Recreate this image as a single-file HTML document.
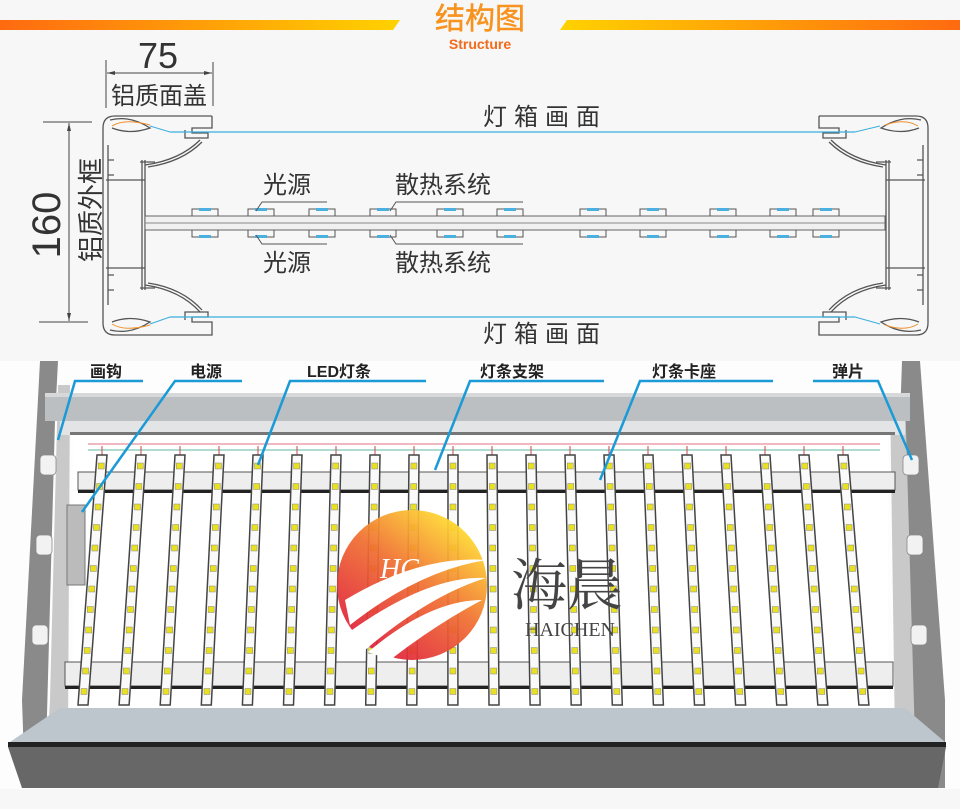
<!DOCTYPE html>
<html><head><meta charset="utf-8"><style>
html,body{margin:0;padding:0;background:#f7f7f7;}
body{width:960px;height:809px;overflow:hidden;position:relative;font-family:"Liberation Sans","Noto Sans CJK SC",sans-serif;}
svg{position:absolute;left:0;top:0;}
</style></head><body>
<svg id="s" width="960" height="809" viewBox="0 0 960 809" xmlns="http://www.w3.org/2000/svg">
<defs>
<linearGradient id="gl" x1="0" x2="1"><stop offset="0" stop-color="#ff6a10"/><stop offset="1" stop-color="#ffd200"/></linearGradient>
<linearGradient id="gr" x1="0" x2="1"><stop offset="0" stop-color="#ffd200"/><stop offset="1" stop-color="#ff6a10"/></linearGradient>
<linearGradient id="lg" x1="0.2" y1="0.9" x2="0.8" y2="0.1"><stop offset="0" stop-color="#e0203a"/><stop offset="0.55" stop-color="#f07030"/><stop offset="1" stop-color="#ffd830"/></linearGradient>
</defs>
<rect width="960" height="809" fill="#f7f7f7"/>
<polygon points="0,20 400,20 393,30 0,30" fill="url(#gl)"/>
<polygon points="567,20 960,20 960,30 560,30" fill="url(#gr)"/>
<text x="480" y="29" text-anchor="middle" font-size="30" fill="#f7931e" stroke="#f7931e" stroke-width="0.5">结构图</text>
<text x="480" y="49" text-anchor="middle" font-size="14" fill="#f26a1b" font-weight="bold">Structure</text>

<text x="158" y="68" text-anchor="middle" font-size="36" fill="#333">75</text>
<line x1="106" y1="60" x2="106" y2="108" stroke="#444"/>
<line x1="213" y1="62" x2="213" y2="106" stroke="#444"/>
<line x1="107" y1="73" x2="212" y2="73" stroke="#444"/>
<polygon points="107,73 115,71 115,75" fill="#444"/><polygon points="212,73 204,71 204,75" fill="#444"/>
<text x="159" y="104" text-anchor="middle" font-size="24" fill="#333">铝质面盖</text>
<line x1="43" y1="122" x2="92" y2="122" stroke="#444"/>
<line x1="39" y1="322" x2="88" y2="322" stroke="#444"/>
<line x1="69" y1="123" x2="69" y2="321" stroke="#444"/>
<polygon points="69,123 67,131 71,131" fill="#444"/><polygon points="69,321 67,313 71,313" fill="#444"/>
<text transform="translate(60,225) rotate(-90)" text-anchor="middle" font-size="40" fill="#333">160</text>
<text transform="translate(100,210) rotate(-90)" text-anchor="middle" font-size="26" fill="#333">铝质外框</text>

<g id="fl" fill="none" stroke="#555" stroke-width="1.3">
<path d="M212,116 L115,116 Q103,116 103,128 L103,323 Q103,335 115,335 L212,335 L212,322 L192,322 L192,317 L208,317 L208,312 L185,312 L185,320"/>
<path d="M212,116 L212,128 L192,128 L192,133 L208,133 L208,138 L185,138 L185,130"/>
<path d="M108,145 L108,305 M106,180 L145,180 L145,268 L106,268 M145,160 L145,290 M142,160 L142,290"/>
<path d="M145,165 Q180,160 200,140 M148,167 Q182,162 202,142 M145,285 Q180,290 200,312 M148,283 Q182,288 202,310"/>
<path d="M140,162 L155,162 M140,288 L155,288 M108,160 L114,160 M108,175 L114,175 M108,275 L114,275 M108,290 L114,290"/>
<path d="M110,120 Q130,115 150,128 Q130,135 112,128 M110,330 Q130,335 150,322 Q130,315 112,322"/>
</g>
<path d="M112,126 Q125,118 150,125 M112,324 Q125,332 150,325" stroke="#f0902a" fill="none"/>
<use href="#fl" transform="translate(1031,0) scale(-1,1)"/>
<path d="M848,126 Q835,118 815,125 M848,324 Q835,332 815,325" stroke="#f0902a" fill="none" transform="translate(70,0)"/>
<line x1="150" y1="126" x2="170" y2="132" stroke="#3aaee0"/>
<line x1="170" y1="132" x2="855" y2="132" stroke="#3aaee0" stroke-width="1.3"/>
<line x1="150" y1="324" x2="170" y2="317" stroke="#3aaee0"/>
<line x1="170" y1="317" x2="855" y2="317" stroke="#3aaee0" stroke-width="1.3"/>
<line x1="855" y1="132" x2="880" y2="126" stroke="#3aaee0"/>
<line x1="855" y1="317" x2="880" y2="324" stroke="#3aaee0"/>
<text x="545" y="125" text-anchor="middle" font-size="24" fill="#333" letter-spacing="7">灯箱画面</text>
<text x="545" y="342" text-anchor="middle" font-size="24" fill="#333" letter-spacing="7">灯箱画面</text>
<rect x="145" y="216" width="740" height="14" fill="#f0f0f0" stroke="#666" stroke-width="1"/>
<line x1="145" y1="223" x2="885" y2="223" stroke="#888"/>
<g id="clips"></g>
<text x="287" y="193" text-anchor="middle" font-size="24" fill="#333">光源</text>
<text x="287" y="271" text-anchor="middle" font-size="24" fill="#333">光源</text>
<text x="443" y="193" text-anchor="middle" font-size="24" fill="#333">散热系统</text>
<text x="443" y="271" text-anchor="middle" font-size="24" fill="#333">散热系统</text>
<path d="M256,211 L262,202 L327,202 M256,235 L262,244 L327,244 M390,211 L396,202 L523,202 M390,235 L396,244 L523,244" stroke="#555" fill="none"/>

<rect x="0" y="361" width="960" height="428" fill="#fdfdfd"/>
<polygon points="40,361 58,361 55,420 45,788 25,788 22,700" fill="#8a8a8a"/>
<polygon points="58,385 70,385 68,740 45,788 50,700" fill="#c9c9c9"/>
<polygon points="902,361 920,361 945,700 945,788 935,788 915,740 900,420" fill="#8a8a8a"/>
<polygon points="890,395 905,395 915,740 895,740" fill="#c9c9c9"/>
<g fill="#f2f2f2" stroke="#888" stroke-width="0.8">
<rect x="40" y="455" width="16" height="20" rx="4"/><rect x="36" y="535" width="16" height="20" rx="4"/><rect x="32" y="625" width="16" height="20" rx="4"/>
<rect x="903" y="455" width="16" height="20" rx="4"/><rect x="907" y="535" width="16" height="20" rx="4"/><rect x="911" y="625" width="16" height="20" rx="4"/>
</g>
<rect x="45" y="393" width="865" height="28" fill="#bcbfc2"/>
<rect x="45" y="393" width="865" height="4" fill="#d6d8da"/>
<rect x="60" y="421" width="845" height="14" fill="#e3e4e5"/>
<rect x="70" y="432" width="825" height="3" fill="#777"/>
<rect x="73" y="436" width="815" height="272" fill="#fff"/>
<polygon points="60,708 905,708 945,742 10,742" fill="#bcc6cc"/>
<rect x="8" y="742" width="938" height="5" fill="#222"/>
<polygon points="8,747 946,747 938,788 22,788" fill="#676767"/>
<line x1="88" y1="444" x2="880" y2="444" stroke="#e07080"/>
<line x1="88" y1="450" x2="880" y2="450" stroke="#5fb8a0"/>
<rect x="78" y="472" width="817" height="18" fill="#eee" stroke="#555"/>
<rect x="78" y="490" width="817" height="3" fill="#222"/>
<rect x="65" y="662" width="828" height="24" fill="#eee" stroke="#555"/>
<rect x="65" y="686" width="828" height="3" fill="#222"/>
<rect x="67" y="505" width="18" height="80" fill="#bbb" stroke="#777"/>
<g id="bars"></g>
<circle cx="412" cy="585" r="75" fill="url(#lg)" opacity="0.93"/>
<path d="M345,600 Q420,555 487,560 Q420,570 350,625 Z M352,630 Q430,575 486,578 Q430,595 365,650 Z M368,652 Q430,600 482,600 Q435,625 390,660 Z" fill="#fff"/>
<text x="380" y="578" font-size="28" fill="#fff" font-style="italic" font-family="Liberation Serif,serif">HC</text>
<text x="567" y="605" text-anchor="middle" font-size="56" fill="#444" font-family="Liberation Serif,'Noto Serif CJK SC',serif">海晨</text>
<text x="570" y="636" text-anchor="middle" font-size="20" fill="#444" font-family="Liberation Serif,serif">HAICHEN</text>
<g font-size="16" font-weight="bold" fill="#222">
<text x="90" y="377">画钩</text><text x="190" y="377">电源</text><text x="307" y="377">LED灯条</text>
<text x="480" y="377">灯条支架</text><text x="652" y="377">灯条卡座</text><text x="832" y="377">弹片</text>
</g>
<g stroke="#1a9ad6" stroke-width="2.5" fill="none">
<path d="M143,381 L75,381 L58,440"/>
<path d="M242,381 L175,381 L82,512"/>
<path d="M426,381 L290,381 L258,465"/>
<path d="M604,381 L470,381 L435,470"/>
<path d="M773,381 L640,381 L600,480"/>
<path d="M813,381 L878,381 L912,460"/>
</g>
</svg>
<script>
var s="";
var cx=[205,261,322,383,450,510,593,653,723,783,826];
cx.forEach(function(x){
s+='<path d="M'+(x-13)+',216 L'+(x-13)+',209 L'+(x+13)+',209 L'+(x+13)+',216 M'+(x-13)+',230 L'+(x-13)+',237 L'+(x+13)+',237 L'+(x+13)+',230" stroke="#555" fill="none"/>';
s+='<rect x="'+(x-6)+'" y="208" width="12" height="3" fill="#4ab0e0"/><rect x="'+(x-6)+'" y="235" width="12" height="3" fill="#4ab0e0"/>';
});
document.getElementById("clips").innerHTML=s;
var b="";
for(var i=0;i<20;i++){
 var xt=102+i*39,xb=83+i*41.1;
 b+='<line x1="'+xt+'" y1="446" x2="'+xt+'" y2="455" stroke="#c44"/>';
 b+='<polygon points="'+(xt-5)+',455 '+(xt+5)+',455 '+(xb+5)+',705 '+(xb-5)+',705" fill="#fafafa" stroke="#444" stroke-width="1.5"/>';
 for(var k=0;k<12;k++){var t=(466+k*20.5-455)/250;var x=xt+(xb-xt)*t;var y=466+k*20.5;
  b+='<rect x="'+(x-3)+'" y="'+(y-3)+'" width="6" height="6" fill="#e8e020" stroke="#888" stroke-width="0.5"/>';}
}
document.getElementById("bars").innerHTML=b;
</script>
</body></html>
